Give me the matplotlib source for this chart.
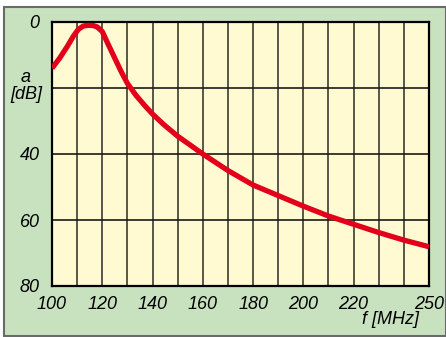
import matplotlib.pyplot as plt
from matplotlib.patches import Rectangle

# attenuation curve of the filter
freq = [100, 103, 106, 108.5, 110.5, 112.5, 114.5, 116.5, 118, 120, 122.5, 125,
        127.5, 130, 133.5, 137, 140, 144.5, 150, 160, 170, 180, 190, 200, 210,
        220, 230, 240, 250]
atten = [14, 11, 7.5, 4.3, 2.2, 1.2, 1.0, 1.1, 1.5, 2.9, 7.0, 11.0,
         15.0, 18.6, 22.3, 25.4, 27.9, 31.1, 34.6, 40, 45, 49.4, 52.6, 55.8, 58.8,
         61.3, 63.8, 66.1, 68.1]

xticks = [100, 120, 140, 160, 180, 200, 220, 250]
yticks = [0, 40, 60, 80]

plt.rcParams['font.family'] = ['Liberation Sans', 'DejaVu Sans']

fig = plt.figure(figsize=(4.46, 3.37), dpi=100)
fig.patch.set_facecolor('white')

# green panel behind the plot
panel = Rectangle((4/446, 1/337), 442/446, 329/337, transform=fig.transFigure,
                  facecolor='#c8e2c0', edgecolor='#6a6a6a', lw=1.5, zorder=-5)
fig.patches.append(panel)

ax = fig.add_axes([52/446, 51/337, 377/446, 264/337])
ax.set_facecolor('#fffad2')
ax.set_zorder(2)

for f in range(110, 250, 10):
    ax.axvline(f, color='#3c3a30', lw=1.2, zorder=1)
for a in (20, 40, 60):
    ax.axhline(a, color='#1a1a1a', lw=1.2, zorder=1)

ax.plot(freq, atten, color='#e2001a', lw=3.8, solid_capstyle='butt',
        solid_joinstyle='round', zorder=3)

ax.set_xlim(100, 250)
ax.set_ylim(80, 0)
ax.set_xticks(xticks)
ax.set_yticks(yticks)
ax.set_xticklabels([str(t) for t in xticks], fontsize=13, style='italic')
ax.set_yticklabels([str(t) for t in yticks], fontsize=13, style='italic')
ax.tick_params(axis='x', length=0, pad=7)
ax.tick_params(axis='y', length=0, pad=9)
for s in ax.spines.values():
    s.set_linewidth(1.6)
    s.set_color('black')

fig.text(26/446, 1 - 86/337, 'a\n[dB]', ha='center', va='center',
         fontsize=13, style='italic', linespacing=1.0)
fig.text(390/446, 1 - 319/337, 'f [MHz]', ha='center', va='center',
         fontsize=13, style='italic')

fig.savefig('out.png', dpi=100, facecolor=fig.get_facecolor())
